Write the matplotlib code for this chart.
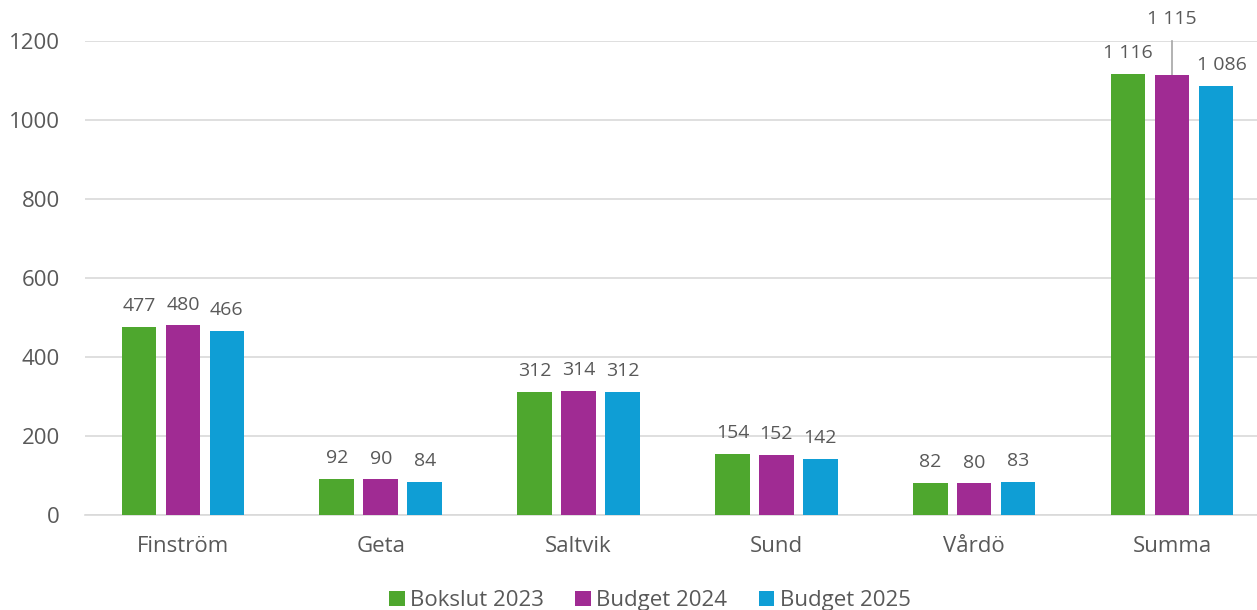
import matplotlib
matplotlib.use("Agg")
import matplotlib.pyplot as plt
import numpy as np

categories = ["Finström", "Geta", "Saltvik", "Sund", "Vårdö", "Summa"]
series_names = ["Bokslut 2023", "Budget 2024", "Budget 2025"]
bokslut_2023 = [477, 92, 312, 154, 82, 1116]
budget_2024 = [480, 90, 314, 152, 80, 1115]
budget_2025 = [466, 84, 312, 142, 83, 1086]
colors = ["#4EA72E", "#A02B93", "#0F9ED5"]
yticks = [0, 200, 400, 600, 800, 1000, 1200]

plt.rcParams['font.family'] = ['Open Sans', 'DejaVu Sans']
txt = "#595959"

fig = plt.figure(figsize=(12.57, 6.10), dpi=100)
ax = fig.add_axes([85/1257, 95/610, 1 - 85/1257, (569-95)/610])

x = np.arange(len(categories))
w = 0.175
step = 0.222
lfs = 14
all_series = [bokslut_2023, budget_2024, budget_2025]
for i, (vals, name, c) in enumerate(zip(all_series, series_names, colors)):
    xs = x + (i - 1) * step
    ax.bar(xs, vals, width=w, color=c, label=name, zorder=3)
    for j, (xx, v) in enumerate(zip(xs, vals)):
        lab = f"{v:,}".replace(",", " ")
        if j == len(categories) - 1 and i == 1:
            ax.plot([xx, xx], [v, 1200], color="#A6A6A6", lw=1.2, zorder=2, clip_on=False)
            ax.text(xx, 1232, lab, ha="center", va="bottom", fontsize=lfs, color=txt, clip_on=False)
        elif j == len(categories) - 1 and i == 2:
            ax.text(xx + 0.03, v + 30, lab, ha="center", va="bottom", fontsize=lfs, color=txt)
        else:
            ax.text(xx, v + 30, lab, ha="center", va="bottom", fontsize=lfs, color=txt)

ax.set_xlim(-0.495, 5.43)
ax.set_ylim(0, 1200)
ax.set_yticks(yticks)
ax.set_yticklabels([str(t) for t in yticks])
ax.set_xticks(x)
ax.set_xticklabels(categories)
ax.tick_params(axis="both", length=0, labelsize=16, colors=txt)
ax.tick_params(axis="y", pad=18)
ax.tick_params(axis="x", pad=15)
ax.grid(axis="y", color="#D9D9D9", lw=1.2, zorder=0)
for s in ["top", "right", "left"]:
    ax.spines[s].set_visible(False)
ax.spines["bottom"].set_color("#D9D9D9")
ax.spines["bottom"].set_linewidth(1.2)

leg = fig.legend(loc="lower center", bbox_to_anchor=(0.517, -0.035), ncol=3, frameon=False,
                 fontsize=16, handlelength=0.7, handleheight=0.7, handletextpad=0.25,
                 columnspacing=1.4)
for t in leg.get_texts():
    t.set_color(txt)

fig.savefig("out.png", dpi=100)
